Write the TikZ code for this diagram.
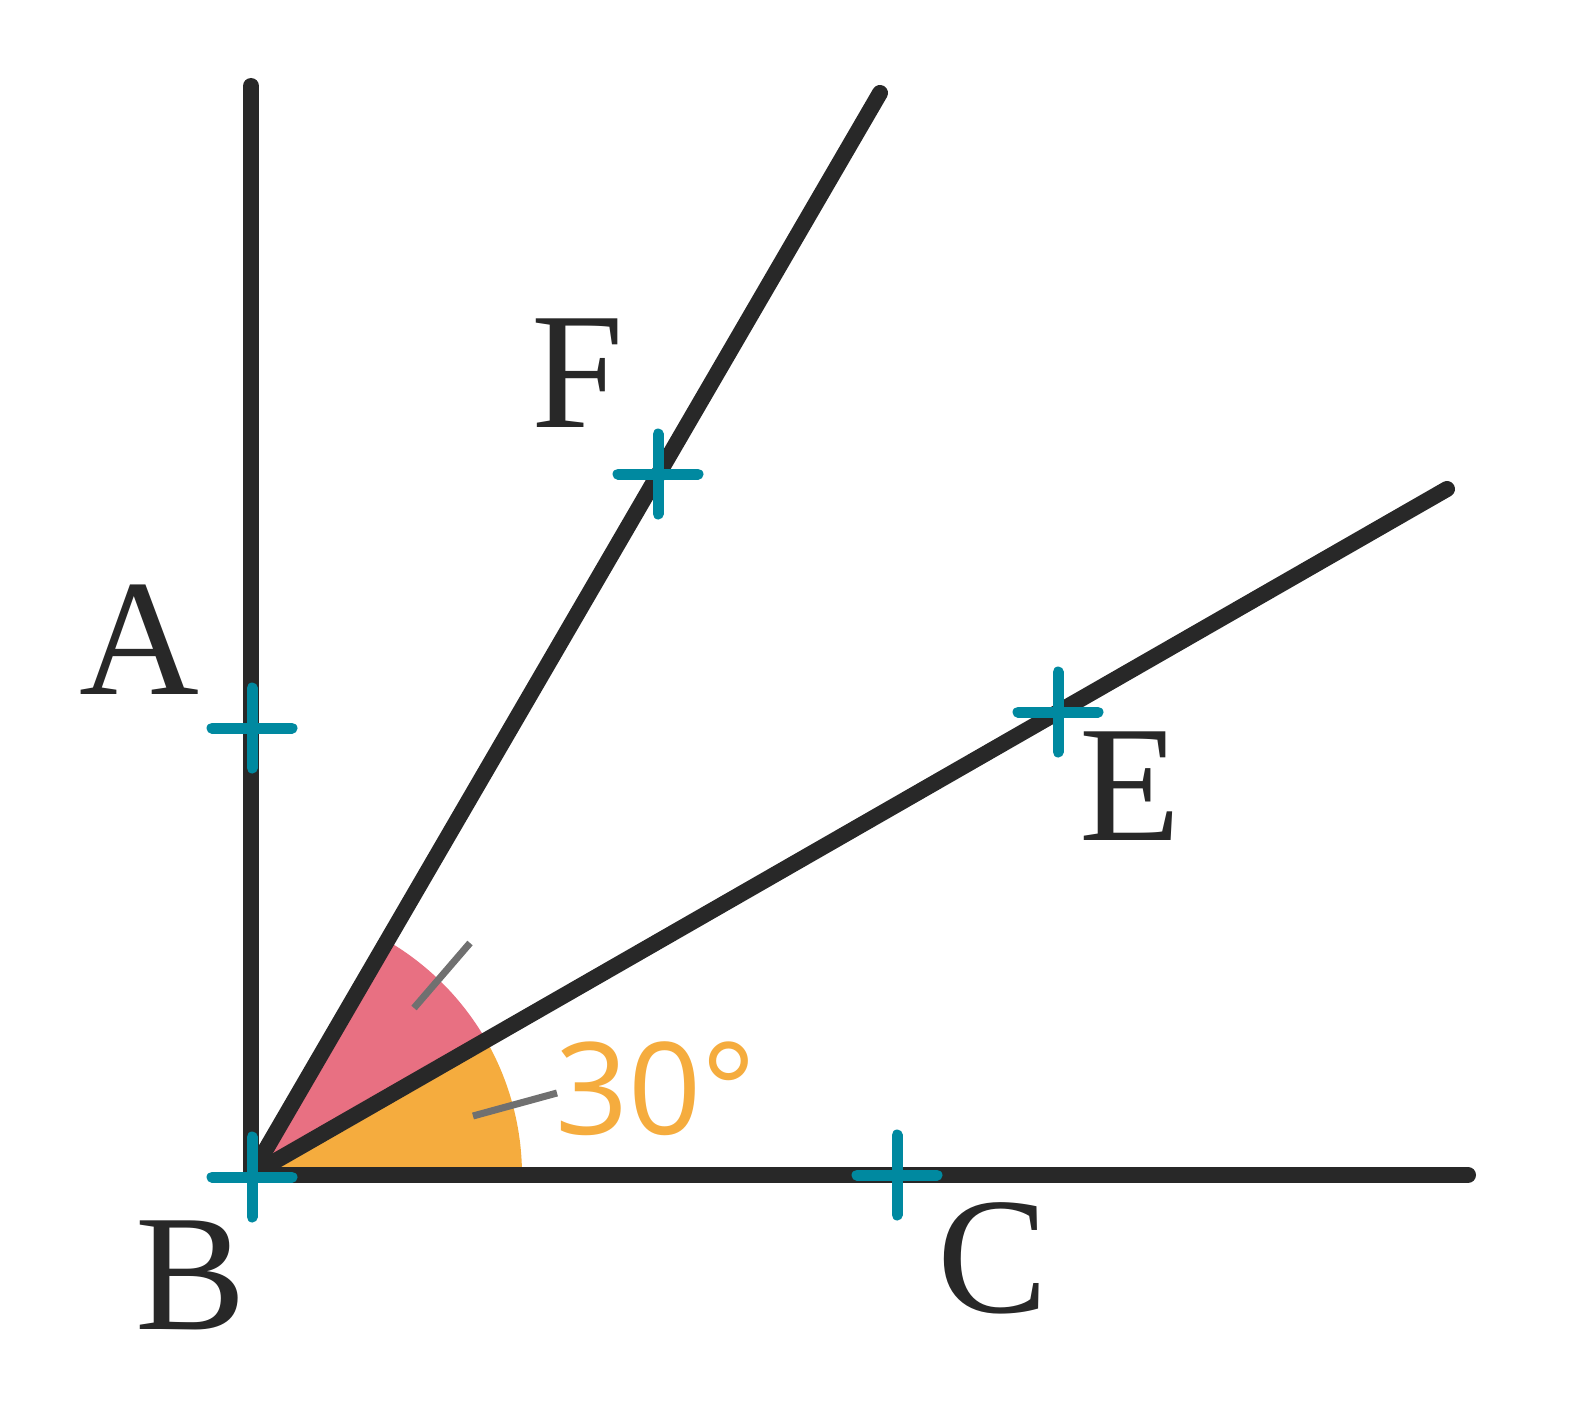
\documentclass[tikz,border=0pt]{standalone}
\usepackage{fontspec}
\setmainfont{Liberation Serif}
\newfontfamily\numfont{Open Sans}
\definecolor{inkdark}{RGB}{40,40,40}
\definecolor{tealmark}{RGB}{0,137,160}
\definecolor{pinkfill}{RGB}{232,112,130}
\definecolor{orangefill}{RGB}{245,172,62}
\definecolor{tickgrey}{RGB}{112,112,112}
\begin{document}
\begin{tikzpicture}[x=1pt,y=-1pt,
  ray/.style={draw=inkdark,line width=16pt,line cap=round},
  angletick/.style={draw=tickgrey,line width=7pt},
  lbl/.style={text=inkdark,inner sep=0pt,font=\fontsize{166}{166}\selectfont},
  anglbl/.style={text=orangefill,inner sep=0pt,font=\numfont\fontsize{128}{128}\selectfont},
  tealcross/.pic={\draw[tealmark,line width=11pt,line cap=round] (-40,0) -- (40,0) (0,-40) -- (0,40);}
]
\useasboundingbox (0,0) rectangle (1588,1402);
% key points
\coordinate (V) at (251,1175);
\coordinate (Atop) at (251,86);
\coordinate (Cend) at (1468,1175);
\coordinate (Fend) at (880,93);
\coordinate (Eend) at (1447,489);
\coordinate (pA) at (252,728);
\coordinate (pB) at (252,1177);
\coordinate (pC) at (897,1175);
\coordinate (pF) at (658,474);
\coordinate (pE) at (1058,712);
\coordinate (t1a) at (414,1008);
\coordinate (t1b) at (470,943);
\coordinate (t2a) at (473,1116);
\coordinate (t2b) at (557,1093);
% angle sectors
\fill[orangefill] (V) -- ++(271,0) arc[start angle=0,end angle=-30,radius=271] -- cycle;
\fill[pinkfill] (V) -- ++(-30:271) arc[start angle=-30,end angle=-60,radius=271] -- cycle;
% equal-angle ticks
\draw[angletick] (t1a) -- (t1b);
\draw[angletick] (t2a) -- (t2b);
% rays
\draw[ray] (Atop) -- (V) -- (Cend);
\draw[ray] (V) -- (Fend);
\draw[ray] (V) -- (Eend);
% point marks
\pic at (pA) {tealcross};
\pic at (pB) {tealcross};
\pic at (pC) {tealcross};
\pic at (pF) {tealcross};
\pic at (pE) {tealcross};
% labels
\node[lbl] (labA) at (139.5,640) {A};
\node[lbl] (labB) at (191,1275) {B};
\node[lbl] (labC) at (993,1258) {C};
\node[lbl] (labE) at (1130,786) {E};
\node[lbl] (labF) at (577.5,373) {F};
\node[anglbl] (ang) at (656,1089) {30°};
\end{tikzpicture}
\end{document}
